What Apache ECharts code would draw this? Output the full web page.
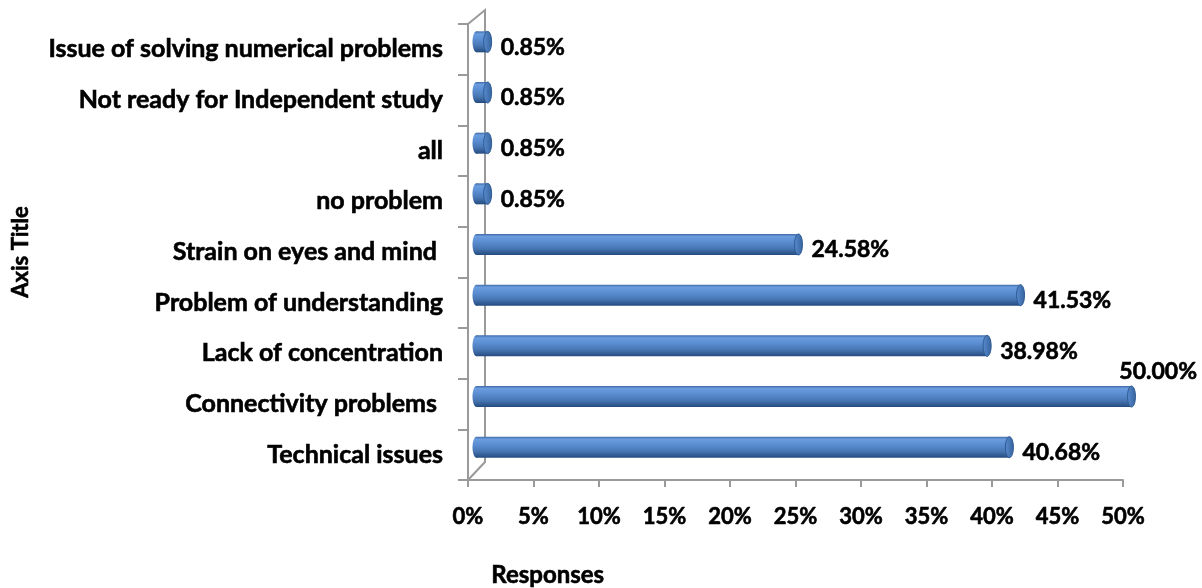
<!DOCTYPE html>
<html>
<head>
<meta charset="utf-8">
<script src="https://cdn.jsdelivr.net/npm/echarts@6/dist/echarts.min.js"></script>
<style>
  html, body { margin: 0; padding: 0; background: #ffffff; }
  #chart { width: 1202px; height: 588px; }
</style>
</head>
<body>
<div id="chart"></div>
<script>
// Problems reported with online learning (share of responses), bottom to top
const categories = [
  'Technical issues',
  'Connectivity problems ',
  'Lack of concentration',
  'Problem of understanding',
  'Strain on eyes and mind ',
  'no problem',
  'all',
  'Not ready for Independent study',
  'Issue of solving numerical problems'
];
const responses = [0.4068, 0.5000, 0.3898, 0.4153, 0.2458, 0.0085, 0.0085, 0.0085, 0.0085];
const axisTicks = [0, 0.05, 0.10, 0.15, 0.20, 0.25, 0.30, 0.35, 0.40, 0.45, 0.50];

const FONT = 'Lato';
const AXIS_GREY = '#9a9a9a';
// a hairline outline thickens the bold text a little
const TEXT_EDGE = 0.6;
// pseudo-3D depth of the plot box
const DEPTH_DX = 17, DEPTH_DY_TOP = -14, DEPTH_DY_BOTTOM = -18;

const chart = echarts.init(document.getElementById('chart'), null, { renderer: 'canvas' });

function pct(v, digits) { return (v * 100).toFixed(digits) + '%'; }

// back wall of the 3D frame
function renderFrame(params, api) {
  const lastIdx = categories.length - 1;
  const bottomFront = api.coord([0, 0]);
  const topFront = api.coord([0, lastIdx]);
  const band = api.size([0, 1])[1];
  const x0 = bottomFront[0];
  const yBottom = bottomFront[1] + band / 2;
  const yTop = topFront[1] - band / 2;
  const style = { stroke: AXIS_GREY, lineWidth: 2, fill: null };
  return {
    type: 'group',
    children: [
      { type: 'polyline', shape: { points: [
          [x0, yBottom], [x0 + DEPTH_DX, yBottom + DEPTH_DY_BOTTOM],
          [x0 + DEPTH_DX, yTop + DEPTH_DY_TOP], [x0, yTop]
        ] }, style: style }
    ]
  };
}

// horizontal cylinder bars with a value label
function renderCylinder(params, api) {
  const idx = api.value(1);
  const val = api.value(0);
  const start = api.coord([0, idx]);
  const end = api.coord([val, idx]);
  const dx = DEPTH_DX / 2, dy = -7.5;
  const cy = start[1] + dy;
  const xs = start[0] + dx;
  const xe = end[0] + dx;
  const h = 21, rx = 4;
  const top = cy - h / 2;
  const bodyFill = new echarts.graphic.LinearGradient(0, 0, 0, 1, [
    { offset: 0, color: '#3f6ba6' },
    { offset: 0.12, color: '#6b9ddf' },
    { offset: 0.35, color: '#5c8fd3' },
    { offset: 0.7, color: '#4776b3' },
    { offset: 1, color: '#244b7f' }
  ]);
  const capFill = new echarts.graphic.LinearGradient(0, 0, 1, 0, [
    { offset: 0, color: '#5a8cd0' },
    { offset: 1, color: '#35629c' }
  ]);
  const labelText = pct(val, 2);
  const W = api.getWidth();
  const labelFont = 'bold 23px ' + FONT;
  const labelStyle = { text: labelText, textVerticalAlign: 'middle', font: labelFont,
    fill: '#000', stroke: '#000', lineWidth: TEXT_EDGE };
  let label;
  if (xe + rx + 90 > W) {
    label = { type: 'text', x: W - 5, y: cy - 25,
      style: Object.assign({ textAlign: 'right' }, labelStyle) };
  } else {
    label = { type: 'text', x: xe + rx + 9, y: start[1] - 2,
      style: Object.assign({ textAlign: 'left' }, labelStyle) };
  }
  return {
    type: 'group',
    children: [
      { type: 'ellipse', shape: { cx: xs, cy: cy, rx: rx, ry: h / 2 }, style: { fill: bodyFill } },
      { type: 'rect', shape: { x: xs, y: top, width: Math.max(xe - xs, 0), height: h }, style: { fill: bodyFill } },
      { type: 'ellipse', shape: { cx: xe, cy: cy, rx: rx, ry: h / 2 },
        style: { fill: capFill, stroke: '#2e5b94', lineWidth: 1 } },
      label
    ]
  };
}

const textCommon = {
  color: '#000', fontFamily: FONT, fontWeight: 'bold',
  textBorderColor: '#000', textBorderWidth: TEXT_EDGE
};

const option = {
  backgroundColor: '#ffffff',
  animation: false,
  grid: { left: 468, right: 79, top: 24, bottom: 108, containLabel: false },
  xAxis: {
    type: 'value',
    min: axisTicks[0],
    max: axisTicks[axisTicks.length - 1],
    interval: axisTicks[1] - axisTicks[0],
    axisLine: { show: true, lineStyle: { color: AXIS_GREY, width: 2 } },
    axisTick: { show: true, length: 7, lineStyle: { color: AXIS_GREY, width: 2 } },
    splitLine: { show: false },
    axisLabel: Object.assign({
      margin: 26, fontSize: 22,
      formatter: v => Math.round(v * 100) + '%'
    }, textCommon)
  },
  yAxis: {
    type: 'category',
    data: categories,
    axisLine: { show: true, lineStyle: { color: AXIS_GREY, width: 2 } },
    axisTick: { show: true, length: 10, lineStyle: { color: AXIS_GREY, width: 2 } },
    axisLabel: Object.assign({ margin: 25, fontSize: 25 }, textCommon),
    name: 'Axis Title',
    nameLocation: 'middle',
    nameRotate: 90,
    nameGap: 436,
    nameTextStyle: Object.assign({ fontSize: 22 }, textCommon)
  },
  graphic: [
    { type: 'text', left: 491, top: 563,
      style: { text: 'Responses', font: 'bold 24px ' + FONT, fill: '#000',
        stroke: '#000', lineWidth: TEXT_EDGE } }
  ],
  series: [
    { type: 'custom', name: 'frame', renderItem: renderFrame, data: [[0, 0]], z: 1, silent: true },
    { type: 'custom', name: 'Responses', renderItem: renderCylinder,
      data: responses.map((v, i) => [v, i]), encode: { x: 0, y: 1 }, z: 3 }
  ]
};

chart.setOption(option);
</script>
</body>
</html>
